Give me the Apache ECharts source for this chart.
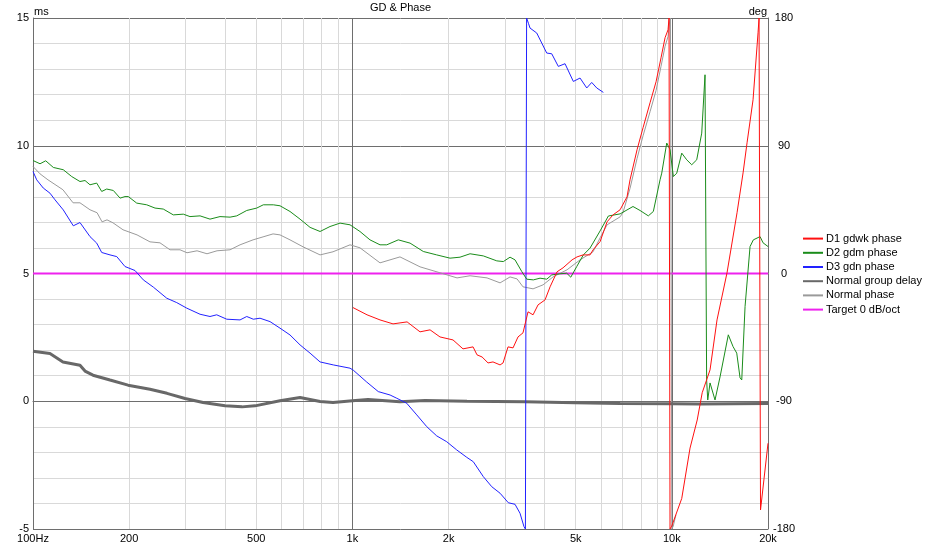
<!DOCTYPE html>
<html><head><meta charset="utf-8">
<script src="https://cdn.jsdelivr.net/npm/echarts@6/dist/echarts.min.js"></script>
<style>html,body{margin:0;padding:0;background:#fff}#c{width:930px;height:547px}</style>
</head><body><div id="c"></div>
<script>
// ---- tick labels / grid values ----
const xLabelValues = [100,200,500,1000,2000,5000,10000,20000];
const xGridValues = [100,200,300,400,500,600,700,800,900,1000,2000,3000,4000,5000,6000,7000,8000,9000,10000,20000];
const legendNames = ['D1 gdwk phase','D2 gdm phase','D3 gdn phase','Normal group delay','Normal phase','Target 0 dB/oct'];

// ---- D1 gdwk phase (deg) ----
const d1Freq = [1004,1111,1220,1340,1483,1628,1750,1880,2065,2219,2386,2455,2546,2658,2755,2899,2962,3070,3183,3299,3420,3546,3677,3812,4009,4157,4371,4564,4870,5049,5272,5545,5666,5962,6269,6545,6886,7240,7398,7782,8125,8546,8925,9251,9522,9729,9800,9870,9990,10739,11402,12007,12447,13170,13850,14885,16000,16710,17197,17957,18615,18750,18950,20000];
const d1Phase = [-24.0,-29.1,-32.7,-35.5,-34.1,-41.1,-39.7,-44.7,-46.8,-53.1,-51.7,-57.3,-58.8,-63.0,-62.3,-64.4,-63.0,-51.7,-52.4,-44.7,-41.8,-27.0,-29.1,-22.1,-18.6,-9.4,1.2,4.0,9.6,11.7,13.1,13.1,16.6,22.5,36.4,41.3,44.9,54.0,66.0,87.2,102.7,120.3,135.1,152.0,166.1,171.7,180,-180,-178,-158.5,-123,-103.2,-84,-67.9,-32.7,0.5,42.8,70.9,92.1,122.4,169.6,180,-166.6,-119.6];

// ---- D2 gdm phase (deg) ----
const d2Freq = [100,105.2,109.6,115.8,124.4,132.2,140.3,145.5,150.8,158.3,164.1,170.1,178.4,187.3,194.1,198.8,211.2,227,241,255.8,274.9,295.5,310.1,333.4,358.2,385,413.9,434.4,466.8,501.6,526.1,565.5,593.3,637.7,685.5,736.8,791.9,850.8,914.7,982.9,1056,1135,1220,1281,1392,1515,1667,1836,2021,2172,2335,2569,2831,2968,3115,3229,3389,3513,3685,3867,4058,4207,4466,4688,4826,5038,5284,5545,5962,6328,6886,7557,7951,8440,8751,9185,9298,9639,9871,10109,10360,10739,11133,11541,11964,12404,12702,12850,12953,13170,13651,14152,15025,15546,15966,16351,16552,16951,17573,17996,18889,19302,20000];
const d2Phase = [79.6,77.3,79.4,74.7,73.1,68.3,64.8,65.5,62.5,63.7,57.8,59.5,58.5,53.1,54.2,54.2,49.6,48.4,46.1,45.4,41.3,41.8,40.1,40.6,38.3,40.1,39.7,40.6,44.4,46.1,48.4,48.4,47.7,43.7,38.3,32.5,29.6,33.1,35.5,34.3,29.6,23.7,20.2,20.2,23.7,21.4,15.5,13.1,10.8,11.5,13.9,12.4,8.9,8.4,11.5,9.6,1.4,-4.0,-4.5,-3.3,-4.0,-1.0,-0.2,0.2,-2.6,4.9,13.1,17.9,30,40.5,42,47.2,44.4,40.6,43.7,66.0,70.7,91.9,87.2,68.3,70.7,84.8,80.1,76.6,80.1,98.9,140.0,-75,-89.1,-77.1,-89.1,-72.9,-43.2,-51.5,-56.1,-73.5,-75.0,-23.3,19.0,23.7,26.0,21.6,19.0];

// ---- D3 gdn phase (deg) ----
const d3Freq = [100,102.7,107.7,113,117.2,124.4,133.7,140.3,150.8,158.3,164.1,174.2,182.9,194.1,208.6,221.5,238.1,262.2,281.8,302.9,333.4,358.2,376,404.2,444.8,466.8,489.5,513.7,552.2,593.3,637.7,685.5,736.8,791.9,871.2,982.9,1006,1109,1205,1312,1377,1479,1590,1709,1836,1973,2121,2280,2390,2569,2730,2899,3077,3229,3347,3445,3480,3510,3560,3598,3776,4058,4207,4411,4630,4916,5159,5415,5613,5820,6103];
const d3Phase = [71.9,66.0,60.2,56.6,51.9,44.8,33.6,35.9,26.0,21.4,14.8,13.1,11.9,4.9,2.1,-4.5,-9.6,-17.4,-20.5,-24.4,-28.7,-30.3,-29.1,-32.2,-32.7,-30.3,-32.2,-31.5,-33.9,-38.5,-43.3,-50.3,-56.1,-62.3,-64.4,-66.7,-68.1,-76.5,-83.2,-85.6,-87.9,-91.4,-99.6,-107.9,-114.4,-118.5,-124.3,-129.5,-132.6,-143.1,-150.2,-154.8,-161.5,-162.6,-168.9,-178.4,-180,180,176,172.9,169.4,155.3,154.8,145.9,147.8,135.3,137.7,130.7,134.6,130.7,127.6];

// ---- Normal group delay (ms) ----
const gdFreq = [100,113,124.1,140.3,145.5,154.1,174.2,198.4,232.4,262.7,299.2,340.7,399.3,451.2,495.5,593.3,685.5,791.9,869.4,1000,1119,1409,1688,2285,3470,4977,6886,10000,12200,20000];
const gdMs = [1.96,1.87,1.54,1.41,1.18,1.02,0.83,0.63,0.47,0.31,0.11,-0.05,-0.18,-0.22,-0.18,0.02,0.15,-0.01,-0.05,0.02,0.07,-0.02,0.03,0.0,-0.02,-0.06,-0.09,-0.1,-0.11,-0.09];

// ---- Normal phase (deg) ----
const npFreq = [100,105.2,111.4,124.1,133.5,140.3,150.8,158.7,164.5,170.5,178,191.3,211.7,232.4,249.8,268.5,288.6,303.5,326.3,350.6,376.8,413.9,444.8,488.5,525,564.3,593.3,637.7,700.5,791.9,869.4,982.9,1056,1220,1409,1628,1880,2126,2335,2639,2899,3115,3276,3420,3677,3952,4247,4698,5159,5666,5962,6269,6886,7034,7398,7782,8125,8546,8925,9251,9522,9729,9850,9900,10000,10100,10300];
const npPhase = [75.4,70.2,66.0,59.0,49.8,49.8,44.9,42.8,36.4,37.8,35.7,30.8,27.2,22.3,21.6,16.7,16.7,14.6,16.0,13.9,16.0,16.7,20.2,23.7,25.8,27.9,27.2,23.7,18.8,13.1,15.3,20.2,18.1,7.5,11.7,4.7,0.5,-3.1,-1.6,-3.1,-6.6,-2.4,-3.8,-9.4,-10.8,-8.0,-2.4,2.6,9.6,15.3,25.1,34.3,39.9,43,60,81,97,114,129,146,160,167,178,180,-180,-178,-170];

// ---- Target 0 dB/oct (deg) ----
const targetFreq = [100,20000];
const targetPhase = [0,0];

const FONT = 'Liberation Sans, Arial, sans-serif';
const DARK = '#6e6e6e', LIGHT = '#d9d9d9';
const zip = (a,b) => a.map((v,i)=>[v,b[i]]);
const fmtX = v => v === 100 ? '100Hz' : (v >= 1000 ? (v/1000)+'k' : String(v));

const gridColors = [DARK, LIGHT, LIGHT, LIGHT, LIGHT, LIGHT, LIGHT, LIGHT, LIGHT];

const chart = echarts.init(document.getElementById('c'), null, {renderer:'canvas'});
chart.setOption({
  animation: false,
  backgroundColor: '#fff',
  textStyle: {fontFamily: FONT},
  grid: {left: 33, top: 18, width: 735, height: 511, containLabel: false},
  graphic: [
    {type:'text', x: 400.5, y: 8, style: {text:'GD & Phase', align:'center', verticalAlign:'middle', font:'11px ' + FONT, fill:'#000'}},
    {type:'text', x: 34, y: 11.5, style: {text:'ms', align:'left', verticalAlign:'middle', font:'11px ' + FONT, fill:'#000'}}
  ],
  legend: {
    orient: 'vertical', left: 802, top: 233, padding: 0, itemWidth: 20, itemHeight: 14, itemGap: 3,
    selectedMode: false, data: legendNames,
    itemStyle: {opacity: 0},
    textStyle: {fontSize: 11, color: '#000', fontFamily: FONT, padding: [0,0,0,-2]}
  },
  xAxis: {
    type: 'log', logBase: 10, min: 100, max: 20000,
    axisLine: {show: true, lineStyle: {color: DARK, width: 1}},
    axisTick: {show: false, customValues: xGridValues},
    axisLabel: {customValues: xLabelValues, formatter: fmtX, margin: 4, fontSize: 11, color: '#000', fontFamily: FONT},
    splitLine: {show: true, lineStyle: {color: gridColors, width: 1}},
    minorTick: {show: false}, minorSplitLine: {show: false}
  },
  yAxis: [{
    type: 'value', min: -5, max: 15, interval: 5, position: 'left',
    axisLine: {show: true, lineStyle: {color: DARK}},
    axisTick: {show: false},
    axisLabel: {margin: 4, fontSize: 11, color: '#000', fontFamily: FONT},
    splitLine: {show: true, lineStyle: {color: DARK}},
    minorTick: {show: false, splitNumber: 5},
    minorSplitLine: {show: true, lineStyle: {color: LIGHT}}
  }, {
    type: 'value', min: -180, max: 180, interval: 90, position: 'right',
    name: 'deg', nameLocation: 'end', nameGap: 1,
    nameTextStyle: {align: 'right', verticalAlign: 'bottom', fontSize: 11, color: '#000', fontFamily: FONT, padding: [0,1,0,0]},
    axisLine: {show: true, lineStyle: {color: DARK}},
    axisTick: {show: false},
    axisLabel: {margin: 16, align: 'center', fontSize: 11, color: '#000', fontFamily: FONT},
    splitLine: {show: false}
  }],
  series: [
    {name: 'Target 0 dB/oct', type: 'line', yAxisIndex: 1, symbol: 'none', z: 2,
     lineStyle: {color: '#ee22ee', width: 2}, itemStyle: {color: '#ee22ee'}, data: zip(targetFreq, targetPhase)},
    {name: 'Normal phase', type: 'line', yAxisIndex: 1, symbol: 'none', z: 3,
     lineStyle: {color: '#9a9a9a', width: 1}, itemStyle: {color: '#9a9a9a'}, data: zip(npFreq, npPhase)},
    {name: 'Normal group delay', type: 'line', yAxisIndex: 0, symbol: 'none', z: 4,
     lineStyle: {color: '#686868', width: 3}, itemStyle: {color: '#686868'}, data: zip(gdFreq, gdMs)},
    {name: 'D3 gdn phase', type: 'line', yAxisIndex: 1, symbol: 'none', z: 5,
     lineStyle: {color: '#2222ff', width: 1}, itemStyle: {color: '#2222ff'}, data: zip(d3Freq, d3Phase)},
    {name: 'D2 gdm phase', type: 'line', yAxisIndex: 1, symbol: 'none', z: 6,
     lineStyle: {color: '#1a8c1a', width: 1}, itemStyle: {color: '#1a8c1a'}, data: zip(d2Freq, d2Phase)},
    {name: 'D1 gdwk phase', type: 'line', yAxisIndex: 1, symbol: 'none', z: 7,
     lineStyle: {color: '#ff1010', width: 1}, itemStyle: {color: '#ff1010'}, data: zip(d1Freq, d1Phase)}
  ]
});
</script>
</body></html>
